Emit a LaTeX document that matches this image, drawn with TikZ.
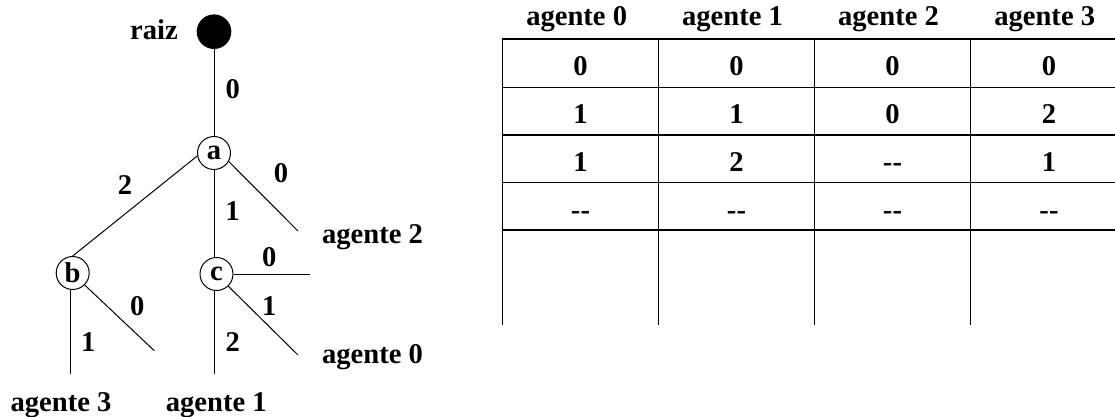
\documentclass[tikz,border=0pt]{standalone}
\usepackage{fontspec}
\setmainfont{Liberation Serif}
\begin{document}
\begin{tikzpicture}[x=1pt,y=-1pt,
  lbl/.style={font=\bfseries\fontsize{28.6}{33}\selectfont, inner sep=0pt},
  vtx/.style={circle, draw, line width=1pt, minimum size=33pt, inner sep=0pt,
              font=\bfseries\fontsize{28.6}{33}\selectfont},
  edge/.style={line width=1pt},
  grid/.style={line width=1.4pt},
  gridv/.style={line width=1pt}]
\useasboundingbox (0,0) rectangle (1115,417);

% ---------- tree ----------
\node[circle, fill=black, minimum size=34.6pt, inner sep=0pt] (raiz) at (214,31.7) {};
\node[lbl, anchor=base] (raizlbl) at (154,40) {raiz};
\node[vtx] (a) at (214,153) {a};
\node[vtx] (b) at (72.7,273) {b};
\node[vtx] (c) at (216.5,274) {c};

\coordinate (a2end) at (298,231);
\coordinate (c0end) at (310,274);
\coordinate (c1end) at (214,374);
\coordinate (c2end) at (298,355);
\coordinate (b3end) at (70,374);
\coordinate (b0end) at (154.3,350.7);

\draw[edge] (raiz) -- (a);
\draw[edge] (a.190) -- (b.north);
\draw[edge] (a.-30) -- (a2end);
\draw[edge] (a.south) -- (a.south |- c.north);
\draw[edge] (c.east) -- (c0end);
\draw[edge] (c.-46) -- (c2end);
\draw[edge] (c1end |- c.south) -- (c1end);
\draw[edge] (b3end |- b.south) -- (b3end);
\draw[edge] (b.-45) -- (b0end);

% edge weights
\node[lbl] (w1) at (232.7,89) {0};
\node[lbl] (w2) at (125,185) {2};
\node[lbl] (w3) at (281,173) {0};
\node[lbl] (w4) at (232.5,211) {1};
\node[lbl] (w5) at (269.3,257.3) {0};
\node[lbl] (w6) at (269.3,306) {1};
\node[lbl] (w7) at (137.3,306) {0};
\node[lbl] (w8) at (88.3,341.7) {1};
\node[lbl] (w9) at (232.7,341.7) {2};

% leaves
\node[lbl, anchor=base] (ag2) at (372.5,243.3) {agente 2};
\node[lbl, anchor=base] (ag0) at (372.5,363.3) {agente 0};
\node[lbl, anchor=base] (ag3) at (61,411) {agente 3};
\node[lbl, anchor=base] (ag1) at (216.3,411) {agente 1};

% ---------- table ----------
\foreach \y in {39,87.3,135,182.7,230}
  \draw[grid] (502,\y) -- (1115,\y);
\foreach \x in {502,658,814,970}
  \draw[gridv] (\x,39) -- (\x,325);

\node[lbl, anchor=base] (h0) at (576.7,26) {agente 0};
\node[lbl, anchor=base] (h1) at (732.5,26) {agente 1};
\node[lbl, anchor=base] (h2) at (888.5,26) {agente 2};
\node[lbl, anchor=base] (h3) at (1044.7,26) {agente 3};

\foreach \r/\yb/\va/\vb/\vc/\vd in {
    1/76/0/0/0/0,
    2/123.5/1/1/0/2,
    3/171.5/1/2/-{}-/1,
    4/219.5/-{}-/-{}-/-{}-/-{}-} {
  \node[lbl, anchor=base] (t\r a) at (580.5,\yb) {\va};
  \node[lbl, anchor=base] (t\r b) at (736.5,\yb) {\vb};
  \node[lbl, anchor=base] (t\r c) at (892.5,\yb) {\vc};
  \node[lbl, anchor=base] (t\r d) at (1049,\yb) {\vd};
}
\end{tikzpicture}
\end{document}
